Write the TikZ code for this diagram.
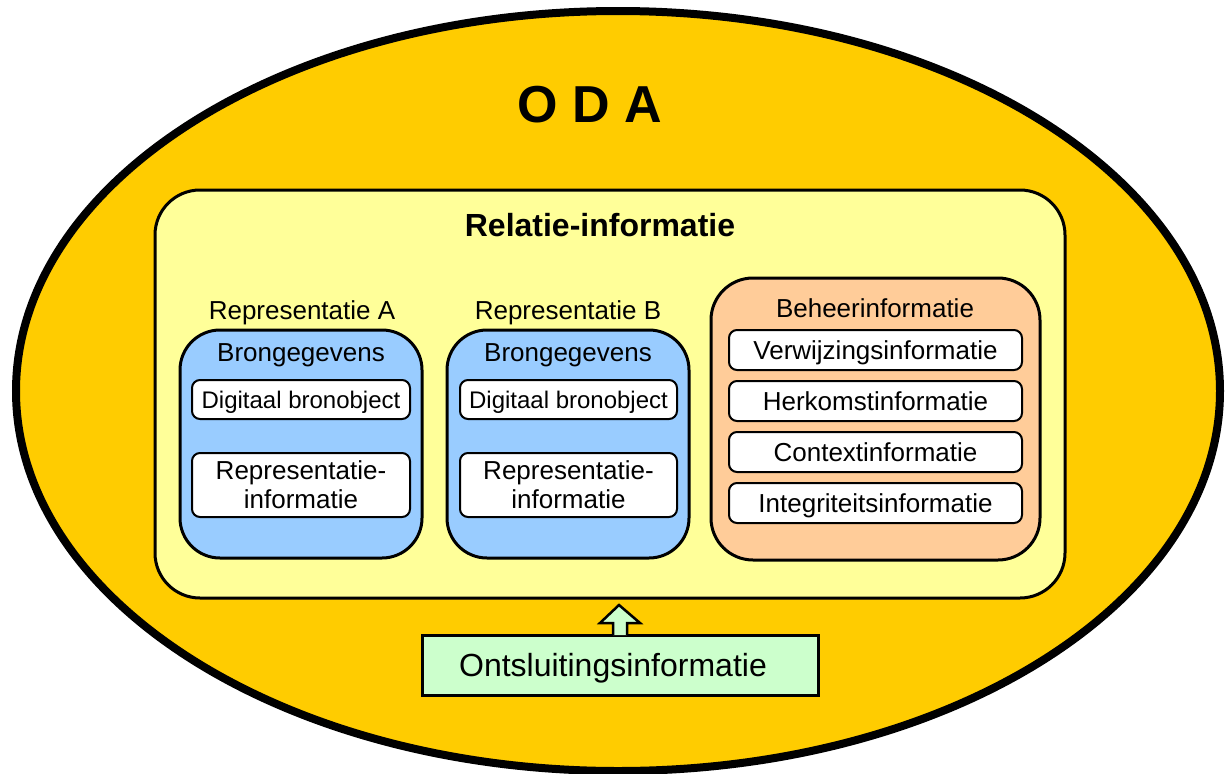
\documentclass[tikz,border=0pt]{standalone}
\usepackage{fontspec}
\setmainfont{Liberation Sans}
\usetikzlibrary{shapes.geometric}
\definecolor{odaorange}{HTML}{FFCC00}
\definecolor{relyellow}{HTML}{FFFF99}
\definecolor{bronblue}{HTML}{99CCFF}
\definecolor{beheerpeach}{HTML}{FFCC99}
\definecolor{ontgreen}{HTML}{CCFFCC}
\tikzset{
  container/.style={draw=black, line width=3pt, rounded corners=#1, outer sep=0pt, inner sep=0pt},
  capc/.style={text height=#1, text depth=0pt},
  itembox/.style={draw=black, line width=2pt, fill=white, rounded corners=8pt, outer sep=0pt, inner sep=0pt,
    minimum width=#1, font=\fontsize{26}{29}\selectfont, align=center},
  lbl/.style={inner sep=0pt, capc=18.6pt, font=\fontsize{26}{30}\selectfont},
}
\begin{document}
\begin{tikzpicture}[x=1pt,y=-1pt]
\useasboundingbox (0,0) rectangle (1227,774);
% outer ellipse
\node[ellipse, draw=black, line width=8pt, fill=odaorange, minimum width=1204pt, minimum height=760pt, inner sep=0pt, outer sep=0pt] (oda) at (618,391) {};
\node[inner sep=0pt, capc=37.2pt, font=\fontsize{52}{60}\selectfont\bfseries] (odal) at (590,103.5) {O D A};
% relatie
\node[container=45pt, fill=relyellow, minimum width=910pt, minimum height=408pt] (rel) at (610,394) {};
\node[inner sep=0pt, capc=22.9pt, font=\fontsize{32}{36}\selectfont\bfseries] (rell) at (600,225.5) {Relatie-informatie};
% representatie A
\node[lbl] (repAl) at (302,310) {Representatie A};
\node[container=40pt, fill=bronblue, minimum width=242pt, minimum height=228pt] (bronA) at (301,444) {};
\node[lbl] (bronAl) at (301,352.5) {Brongegevens};
\node[itembox=218pt, capc=17.2pt, minimum height=39pt, font=\fontsize{24}{28}\selectfont] (dbA) at (301,399.5) {Digitaal bronobject};
\node[itembox=218pt, minimum height=64pt] (riA) at (301,485) {Representatie-\\informatie};
% representatie B
\node[lbl] (repBl) at (568,310) {Representatie B};
\node[container=40pt, fill=bronblue, minimum width=242pt, minimum height=228pt] (bronB) at (568,444) {};
\node[lbl] (bronBl) at (568,352.5) {Brongegevens};
\node[itembox=217pt, capc=17.2pt, minimum height=39pt, font=\fontsize{24}{28}\selectfont] (dbB) at (568.5,399.5) {Digitaal bronobject};
\node[itembox=217pt, minimum height=64pt] (riB) at (568.5,485) {Representatie-\\informatie};
% beheer
\node[container=42pt, fill=beheerpeach, minimum width=329pt, minimum height=282pt] (beh) at (875.5,419) {};
\node[lbl] (behl) at (875,308.5) {Beheerinformatie};
\node[itembox=293pt, capc=18.6pt, minimum height=40pt] (verw) at (875.5,350) {Verwijzingsinformatie};
\node[itembox=293pt, capc=18.6pt, minimum height=40pt] (herk) at (875.5,401) {Herkomstinformatie};
\node[itembox=293pt, capc=18.6pt, minimum height=40pt] (cont) at (875.5,452) {Contextinformatie};
\node[itembox=293pt, capc=18.6pt, minimum height=40pt] (integ) at (875.5,503) {Integriteitsinformatie};
% ontsluiting
\node[draw=black, line width=3pt, fill=ontgreen, minimum width=396pt, minimum height=60pt, inner sep=0pt, outer sep=0pt,
  capc=22.9pt, font=\fontsize{32}{36}\selectfont] (ont) at (620,665) {\hspace*{-14pt}Ontsluitingsinformatie};
\coordinate (tip) at (619,605);
\draw[line width=2.5pt, fill=ontgreen, line join=miter]
  ([xshift=-7pt]ont.north) -- ++(0,-12) -- ++(-13,0) -- (tip) -- ([xshift=20pt]ont.north |- 0,623) -- ++(-13,0) -- ([xshift=7pt]ont.north);
\end{tikzpicture}
\end{document}
